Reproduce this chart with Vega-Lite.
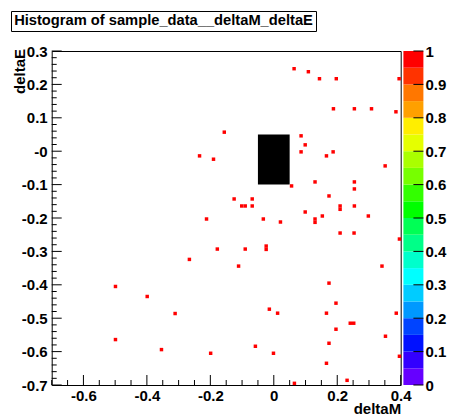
{
  "$schema": "https://vega.github.io/schema/vega-lite/v6.json",
  "background": "white",
  "padding": {"left": 10, "top": 10, "right": 5, "bottom": 0},
  "config": {
    "font": "Liberation Sans",
    "view": {"stroke": "#000", "strokeWidth": 1},
    "axis": {"grid": false, "labelColor": "#000", "titleColor": "#000", "labelFont": "Liberation Sans", "titleFont": "Liberation Sans", "labelFontWeight": "bold", "titleFontWeight": "bold", "labelFontSize": 15, "titleFontSize": 15, "labelFlush": false, "labelOverlap": false}
  },
  "datasets": {
    "title": [{"t": "Histogram of sample_data__deltaM_deltaE"}],
    "box": [{"x1": -0.05, "x2": 0.05, "y1": -0.1, "y2": 0.05}],
    "xmajor": [{"v": -0.6}, {"v": -0.4}, {"v": -0.2}, {"v": 0}, {"v": 0.2}, {"v": 0.4}],
    "xminor": [{"v": -0.7}, {"v": -0.65}, {"v": -0.55}, {"v": -0.5}, {"v": -0.45}, {"v": -0.35}, {"v": -0.3}, {"v": -0.25}, {"v": -0.15}, {"v": -0.1}, {"v": -0.05}, {"v": 0.05}, {"v": 0.1}, {"v": 0.15}, {"v": 0.25}, {"v": 0.3}, {"v": 0.35}],
    "ymajor": [{"v": -0.7}, {"v": -0.6}, {"v": -0.5}, {"v": -0.4}, {"v": -0.3}, {"v": -0.2}, {"v": -0.1}, {"v": 0}, {"v": 0.1}, {"v": 0.2}, {"v": 0.3}],
    "yminor": [{"v": -0.68}, {"v": -0.66}, {"v": -0.64}, {"v": -0.62}, {"v": -0.58}, {"v": -0.56}, {"v": -0.54}, {"v": -0.52}, {"v": -0.48}, {"v": -0.46}, {"v": -0.44}, {"v": -0.42}, {"v": -0.38}, {"v": -0.36}, {"v": -0.34}, {"v": -0.32}, {"v": -0.28}, {"v": -0.26}, {"v": -0.24}, {"v": -0.22}, {"v": -0.18}, {"v": -0.16}, {"v": -0.14}, {"v": -0.12}, {"v": -0.08}, {"v": -0.06}, {"v": -0.04}, {"v": -0.02}, {"v": 0.02}, {"v": 0.04}, {"v": 0.06}, {"v": 0.08}, {"v": 0.12}, {"v": 0.14}, {"v": 0.16}, {"v": 0.18}, {"v": 0.22}, {"v": 0.24}, {"v": 0.26}, {"v": 0.28}],
    "cticks": [{"v": 0}, {"v": 0.1}, {"v": 0.2}, {"v": 0.3}, {"v": 0.4}, {"v": 0.5}, {"v": 0.6}, {"v": 0.7}, {"v": 0.8}, {"v": 0.9}, {"v": 1}],
    "bins": [
      {"deltaM": 0.064, "deltaE": 0.247, "z": 1},
      {"deltaM": 0.109, "deltaE": 0.238, "z": 1},
      {"deltaM": 0.144, "deltaE": 0.217, "z": 1},
      {"deltaM": 0.197, "deltaE": 0.217, "z": 1},
      {"deltaM": 0.395, "deltaE": 0.217, "z": 1},
      {"deltaM": 0.188, "deltaE": 0.127, "z": 1},
      {"deltaM": 0.254, "deltaE": 0.127, "z": 1},
      {"deltaM": 0.308, "deltaE": 0.127, "z": 1},
      {"deltaM": 0.385, "deltaE": 0.118, "z": 1},
      {"deltaM": 0.086, "deltaE": 0.046, "z": 1},
      {"deltaM": -0.156, "deltaE": 0.057, "z": 1},
      {"deltaM": 0.099, "deltaE": 0.019, "z": 1},
      {"deltaM": 0.086, "deltaE": -0.002, "z": 1},
      {"deltaM": 0.187, "deltaE": -0.002, "z": 1},
      {"deltaM": 0.166, "deltaE": -0.014, "z": 1},
      {"deltaM": -0.234, "deltaE": -0.014, "z": 1},
      {"deltaM": -0.19, "deltaE": -0.024, "z": 1},
      {"deltaM": 0.351, "deltaE": -0.044, "z": 1},
      {"deltaM": 0.056, "deltaE": -0.104, "z": 1},
      {"deltaM": 0.13, "deltaE": -0.092, "z": 1},
      {"deltaM": 0.254, "deltaE": -0.092, "z": 1},
      {"deltaM": 0.254, "deltaE": -0.113, "z": 1},
      {"deltaM": 0.174, "deltaE": -0.134, "z": 1},
      {"deltaM": -0.125, "deltaE": -0.143, "z": 1},
      {"deltaM": -0.068, "deltaE": -0.143, "z": 1},
      {"deltaM": -0.101, "deltaE": -0.164, "z": 1},
      {"deltaM": -0.09, "deltaE": -0.164, "z": 1},
      {"deltaM": -0.068, "deltaE": -0.164, "z": 1},
      {"deltaM": 0.209, "deltaE": -0.164, "z": 1},
      {"deltaM": 0.209, "deltaE": -0.174, "z": 1},
      {"deltaM": 0.254, "deltaE": -0.164, "z": 1},
      {"deltaM": 0.099, "deltaE": -0.182, "z": 1},
      {"deltaM": 0.153, "deltaE": -0.194, "z": 1},
      {"deltaM": 0.298, "deltaE": -0.194, "z": 1},
      {"deltaM": -0.212, "deltaE": -0.203, "z": 1},
      {"deltaM": -0.033, "deltaE": -0.203, "z": 1},
      {"deltaM": 0.021, "deltaE": -0.212, "z": 1},
      {"deltaM": 0.13, "deltaE": -0.203, "z": 1},
      {"deltaM": 0.13, "deltaE": -0.213, "z": 1},
      {"deltaM": 0.209, "deltaE": -0.245, "z": 1},
      {"deltaM": 0.253, "deltaE": -0.245, "z": 1},
      {"deltaM": 0.396, "deltaE": -0.263, "z": 1},
      {"deltaM": -0.178, "deltaE": -0.293, "z": 1},
      {"deltaM": -0.09, "deltaE": -0.293, "z": 1},
      {"deltaM": -0.024, "deltaE": -0.284, "z": 1},
      {"deltaM": -0.024, "deltaE": -0.294, "z": 1},
      {"deltaM": -0.266, "deltaE": -0.324, "z": 1},
      {"deltaM": -0.111, "deltaE": -0.344, "z": 1},
      {"deltaM": 0.341, "deltaE": -0.344, "z": 1},
      {"deltaM": 0.174, "deltaE": -0.395, "z": 1},
      {"deltaM": -0.499, "deltaE": -0.405, "z": 1},
      {"deltaM": -0.399, "deltaE": -0.435, "z": 1},
      {"deltaM": 0.196, "deltaE": -0.455, "z": 1},
      {"deltaM": -0.014, "deltaE": -0.473, "z": 1},
      {"deltaM": 0.012, "deltaE": -0.485, "z": 1},
      {"deltaM": 0.166, "deltaE": -0.485, "z": 1},
      {"deltaM": 0.386, "deltaE": -0.485, "z": 1},
      {"deltaM": -0.311, "deltaE": -0.486, "z": 1},
      {"deltaM": 0.241, "deltaE": -0.515, "z": 1},
      {"deltaM": 0.252, "deltaE": -0.515, "z": 1},
      {"deltaM": 0.196, "deltaE": -0.533, "z": 1},
      {"deltaM": 0.352, "deltaE": -0.554, "z": 1},
      {"deltaM": -0.499, "deltaE": -0.564, "z": 1},
      {"deltaM": 0.174, "deltaE": -0.575, "z": 1},
      {"deltaM": -0.058, "deltaE": -0.584, "z": 1},
      {"deltaM": -0.354, "deltaE": -0.594, "z": 1},
      {"deltaM": -0.199, "deltaE": -0.605, "z": 1},
      {"deltaM": -0.001, "deltaE": -0.605, "z": 1},
      {"deltaM": 0.396, "deltaE": -0.614, "z": 1},
      {"deltaM": 0.166, "deltaE": -0.635, "z": 1},
      {"deltaM": 0.231, "deltaE": -0.686, "z": 1},
      {"deltaM": 0.065, "deltaE": -0.695, "z": 1}
    ],
    "palette": [
      {"lo": 0.0, "hi": 0.05}, {"lo": 0.05, "hi": 0.1}, {"lo": 0.1, "hi": 0.15}, {"lo": 0.15, "hi": 0.2},
      {"lo": 0.2, "hi": 0.25}, {"lo": 0.25, "hi": 0.3}, {"lo": 0.3, "hi": 0.35}, {"lo": 0.35, "hi": 0.4},
      {"lo": 0.4, "hi": 0.45}, {"lo": 0.45, "hi": 0.5}, {"lo": 0.5, "hi": 0.55}, {"lo": 0.55, "hi": 0.6},
      {"lo": 0.6, "hi": 0.65}, {"lo": 0.65, "hi": 0.7}, {"lo": 0.7, "hi": 0.75}, {"lo": 0.75, "hi": 0.8},
      {"lo": 0.8, "hi": 0.85}, {"lo": 0.85, "hi": 0.9}, {"lo": 0.9, "hi": 0.95}, {"lo": 0.95, "hi": 1.0}
    ]
  },
  "spacing": 11,
  "vconcat": [
    {
      "width": 305,
      "height": 20,
      "view": {"stroke": "#000", "strokeWidth": 1},
      "data": {"name": "title"},
      "mark": {"type": "text", "font": "Liberation Sans", "fontWeight": "bold", "fontSize": 14.7, "color": "#000"},
      "encoding": {"text": {"field": "t", "type": "nominal"}}
    },
    {
      "bounds": "flush",
      "spacing": 2.7,
      "hconcat": [
        {
          "width": 37.3,
          "height": 334,
          "view": {"stroke": null},
          "data": {"name": "title"},
          "mark": {"type": "text"},
          "encoding": {"text": {"value": ""}}
        },
        {
          "width": 349,
          "height": 334,
          "view": {"stroke": "#000", "strokeWidth": 1},
          "resolve": {"axis": {"x": "independent", "y": "independent"}},
          "layer": [
            {
              "data": {"name": "box"},
              "mark": {"type": "rect", "color": "#000"},
              "encoding": {
                "x": {
                  "field": "x1", "type": "quantitative", "title": "deltaM",
                  "scale": {"domain": [-0.7, 0.4], "nice": false, "zero": false},
                  "axis": {
                    "orient": "bottom", "domain": false, "ticks": false,
                    "values": [-0.6,-0.4,-0.2,0,0.2,0.4],
                    "labelExpr": "(datum.value < -0.001 ? '-' : '') + format(abs(datum.value), '.1~f')",
                    "labelPadding": 3,
                    "labelOverlap": false, "labelFlush": false,
                    "titleAnchor": "end", "titleAlign": "right", "titleBaseline": "alphabetic",
                    "titleX": 349, "titleY": 28.5
                  }
                },
                "x2": {"field": "x2"},
                "y": {
                  "field": "y1", "type": "quantitative", "title": "deltaE",
                  "scale": {"domain": [-0.7, 0.3], "nice": false, "zero": false},
                  "axis": {
                    "orient": "left", "domain": false, "ticks": false,
                    "values": [-0.7,-0.6,-0.5,-0.4,-0.3,-0.2,-0.1,0,0.1,0.2,0.3],
                    "labelExpr": "abs(datum.value) < 0.001 ? '-0' : (datum.value < 0 ? '-' : '') + format(abs(datum.value), '.1~f')",
                    "labelPadding": 4.5,
                    "labelOverlap": false, "labelFlush": false,
                    "titleAnchor": "end", "titleAlign": "right", "titleBaseline": "alphabetic", "titleAngle": 270,
                    "titleX": -27, "titleY": -2.5
                  }
                },
                "y2": {"field": "y2"}
              }
            },
            {
              "data": {"name": "bins"},
              "mark": {"type": "point", "shape": "square", "filled": true, "size": 12, "opacity": 1},
              "encoding": {
                "x": {"field": "deltaM", "type": "quantitative", "axis": null},
                "y": {"field": "deltaE", "type": "quantitative", "axis": null},
                "color": {
                  "field": "z", "type": "quantitative", "legend": null,
                  "scale": {"type": "threshold", "domain": [0.05,0.1,0.15,0.2,0.25,0.3,0.35,0.4,0.45,0.5,0.55,0.6,0.65,0.7,0.75,0.8,0.85,0.9,0.95],
                    "range": ["#6600ff","#3300ff","#0011ff","#0044ff","#0099ff","#00ccff","#00ffff","#00ffcc","#00ff88","#00ff55","#00ff00","#33ff00","#77ff00","#aaff00","#e5ff00","#ffee00","#ffa000","#ff7700","#ff3300","#ff0000"]}
                }
              }
            },
            {
              "data": {"name": "xmajor"},
              "mark": {"type": "tick", "orient": "vertical", "size": 10, "thickness": 1, "yOffset": -5, "color": "#000", "opacity": 1},
              "encoding": {
                "x": {"field": "v", "type": "quantitative", "axis": null},
                "y": {"datum": -0.7, "type": "quantitative", "axis": null}
              }
            },
            {
              "data": {"name": "xminor"},
              "mark": {"type": "tick", "orient": "vertical", "size": 5, "thickness": 1, "yOffset": -2.5, "color": "#000", "opacity": 1},
              "encoding": {
                "x": {"field": "v", "type": "quantitative", "axis": null},
                "y": {"datum": -0.7, "type": "quantitative", "axis": null}
              }
            },
            {
              "data": {"name": "ymajor"},
              "mark": {"type": "tick", "orient": "horizontal", "size": 10, "thickness": 1, "xOffset": 5, "color": "#000", "opacity": 1},
              "encoding": {
                "y": {"field": "v", "type": "quantitative", "axis": null},
                "x": {"datum": -0.7, "type": "quantitative", "axis": null}
              }
            },
            {
              "data": {"name": "yminor"},
              "mark": {"type": "tick", "orient": "horizontal", "size": 5, "thickness": 1, "xOffset": 2.5, "color": "#000", "opacity": 1},
              "encoding": {
                "y": {"field": "v", "type": "quantitative", "axis": null},
                "x": {"datum": -0.7, "type": "quantitative", "axis": null}
              }
            }
          ]
        },
        {
          "width": 20,
          "height": 334,
          "view": {"stroke": null},
          "resolve": {"axis": {"y": "independent"}},
          "layer": [
            {
              "data": {"name": "palette"},
              "mark": {"type": "rect"},
              "encoding": {
                "x": {"datum": 0, "type": "quantitative", "scale": {"domain": [0, 1], "nice": false, "zero": false}, "axis": null},
                "x2": {"datum": 1},
                "y": {
                  "field": "lo", "type": "quantitative", "title": null,
                  "scale": {"domain": [0, 1], "nice": false, "zero": false},
                  "axis": {
                    "orient": "right", "title": null,
                    "domain": false, "ticks": false,
                    "values": [0,0.1,0.2,0.3,0.4,0.5,0.6,0.7,0.8,0.9,1],
                    "labelPadding": 1.5,
                    "labelOverlap": false, "labelFlush": false,
                    "labelExpr": "format(datum.value, '.1~f')"
                  }
                },
                "y2": {"field": "hi"},
                "color": {
                  "field": "lo", "type": "quantitative", "legend": null,
                  "scale": {"type": "threshold", "domain": [0.05,0.1,0.15,0.2,0.25,0.3,0.35,0.4,0.45,0.5,0.55,0.6,0.65,0.7,0.75,0.8,0.85,0.9,0.95],
                    "range": ["#6600ff","#3300ff","#0011ff","#0044ff","#0099ff","#00ccff","#00ffff","#00ffcc","#00ff88","#00ff55","#00ff00","#33ff00","#77ff00","#aaff00","#e5ff00","#ffee00","#ffa000","#ff7700","#ff3300","#ff0000"]}
                }
              }
            },
            {
              "data": {"name": "cticks"},
              "mark": {"type": "tick", "orient": "horizontal", "size": 10, "thickness": 1, "xOffset": -5, "color": "#000", "opacity": 1},
              "encoding": {
                "y": {"field": "v", "type": "quantitative", "axis": null},
                "x": {"datum": 1, "type": "quantitative", "axis": null}
              }
            }
          ]
        }
      ]
    }
  ]
}
